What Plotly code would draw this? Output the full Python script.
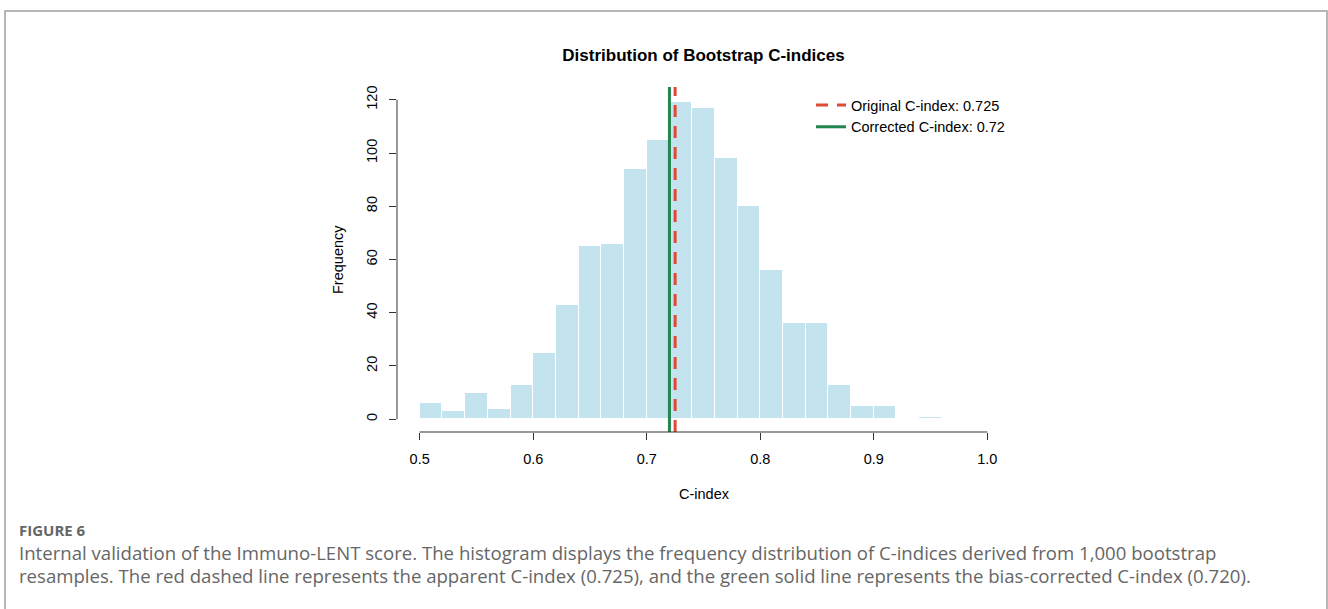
import plotly.graph_objects as go

# ---- data ----
bin_left = [0.50, 0.52, 0.54, 0.56, 0.58, 0.60, 0.62, 0.64, 0.66, 0.68, 0.70, 0.72,
            0.74, 0.76, 0.78, 0.80, 0.82, 0.84, 0.86, 0.88, 0.90, 0.92, 0.94]
counts = [6, 3, 10, 4, 13, 25, 43, 65, 66, 94, 105, 119,
          117, 98, 80, 56, 36, 36, 13, 5, 5, 0, 1]
bin_width = 0.02
original_c = 0.725
corrected_c = 0.72
x_ticks = [0.5, 0.6, 0.7, 0.8, 0.9, 1.0]
x_tick_labels = ["0.5", "0.6", "0.7", "0.8", "0.9", "1.0"]
y_ticks = [0, 20, 40, 60, 80, 100, 120]

W, H = 1328, 609
L, R, T, B = 397, 318, 87, 177
PW, PH = W - L - R, H - T - B
xr = [0.48, 1.02]
yr = [-4.8, 124.8]


def px(xp):
    return (xp - L) / PW


def py(yp):
    return 1 - (yp - T) / PH


FONT = "Liberation Sans, Arial, sans-serif"
CAP = "Open Sans, Noto Sans, sans-serif"
FS = 14.5

fig = go.Figure()
fig.add_trace(go.Bar(
    x=[b + bin_width / 2 for b in bin_left], y=counts, width=bin_width,
    marker=dict(color="#C3E3EE", line=dict(color="white", width=1)),
    showlegend=False, hoverinfo="x+y"))

fig.add_trace(go.Scatter(
    x=[corrected_c, corrected_c], y=yr, mode="lines",
    line=dict(color="#23854F", width=3),
    name="Corrected C-index: 0.72"))
fig.add_trace(go.Scatter(
    x=[original_c, original_c], y=yr, mode="lines",
    line=dict(color="#E04A35", width=3, dash="12px,9px"),
    name="Original C-index: 0.725"))

shapes = [
    dict(type="line", xref="x", yref="paper", x0=x_ticks[0], x1=x_ticks[-1], y0=0, y1=0,
         line=dict(color="#333333", width=1)),
    dict(type="line", xref="paper", yref="y", x0=0, x1=0, y0=y_ticks[0], y1=y_ticks[-1],
         line=dict(color="#333333", width=1)),
    dict(type="rect", xref="paper", yref="paper", x0=px(5), x1=px(1327), y0=py(640), y1=py(11),
         line=dict(color="#A0A0A0", width=1.5)),
]

annotations = [
    dict(text="Frequency", xref="paper", yref="paper", x=px(338), y=py(260), textangle=-90,
         showarrow=False, font=dict(family=FONT, size=FS, color="black"),
         xanchor="center", yanchor="middle"),
    dict(text="C-index", xref="paper", yref="paper", x=px(704), y=py(494),
         showarrow=False, font=dict(family=FONT, size=FS, color="black"),
         xanchor="center", yanchor="middle"),
    dict(text="<b>FIGURE 6</b>", xref="paper", yref="paper", x=px(17), y=py(530),
         showarrow=False, font=dict(family=CAP, size=15, color="#666666"),
         xanchor="left", yanchor="middle"),
    dict(text="Internal validation of the Immuno-LENT score. The histogram displays the frequency distribution of C-indices derived from 1,000 bootstrap",
         xref="paper", yref="paper", x=px(17), y=py(552),
         showarrow=False, font=dict(family=CAP, size=18.6, color="#666666"),
         xanchor="left", yanchor="middle"),
    dict(text="resamples. The red dashed line represents the apparent C-index (0.725), and the green solid line represents the bias-corrected C-index (0.720).",
         xref="paper", yref="paper", x=px(17), y=py(575),
         showarrow=False, font=dict(family=CAP, size=18.6, color="#666666"),
         xanchor="left", yanchor="middle"),
]

fig.update_layout(
    width=W, height=H,
    margin=dict(l=L, r=R, t=T, b=B),
    paper_bgcolor="white", plot_bgcolor="white",
    title=dict(text="<b>Distribution of Bootstrap C-indices</b>", x=0.5, xref="paper",
               y=1 - 55 / H, yref="container", xanchor="center", yanchor="middle",
               font=dict(family=FONT, size=17, color="black")),
    xaxis=dict(range=xr, tickvals=x_ticks, ticktext=x_tick_labels,
               ticks="outside", ticklen=7, tickcolor="#333333", showgrid=False, zeroline=False,
               showline=False, tickfont=dict(family=FONT, size=FS, color="black"),
               ticklabelstandoff=7),
    yaxis=dict(range=yr, tickvals=y_ticks, ticks="outside", ticklen=7, tickcolor="#333333",
               showgrid=False, zeroline=False, showline=False, tickangle=-90,
               tickfont=dict(family=FONT, size=FS, color="black"), ticklabelstandoff=6),
    legend=dict(x=px(811), y=py(89), xanchor="left", yanchor="top",
                bgcolor="rgba(0,0,0,0)", borderwidth=0,
                font=dict(family=FONT, size=FS, color="black"), tracegroupgap=0,
                traceorder="reversed"),
    shapes=shapes, annotations=annotations, bargap=0,
)

fig.write_html("out.html")
